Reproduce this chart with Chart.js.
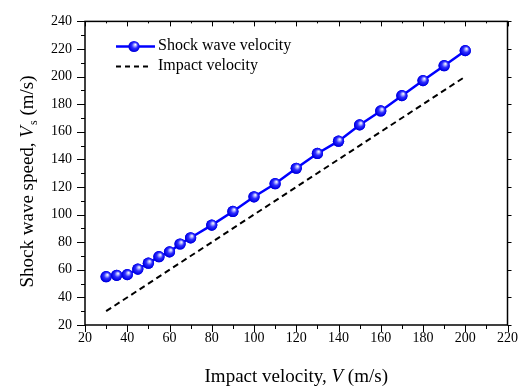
<!DOCTYPE html>
<html>
<head>
<meta charset="utf-8">
<script src="https://cdn.jsdelivr.net/npm/chart.js@4.4.1/dist/chart.umd.min.js"></script>
<style>
  html, body { margin: 0; padding: 0; background: #fff; }
</style>
</head>
<body>
<canvas id="shockChart" width="523" height="389"></canvas>
<script>
// impact velocity (m/s) of each test
var impactV = [30, 35, 40, 45, 50, 55, 60, 65, 70, 80, 90, 100, 110, 120, 130, 140, 150, 160, 170, 180, 190, 200];
// measured shock wave speed Vs (m/s)
var shockV = [55, 56, 56.5, 60.5, 64.8, 69.5, 73, 78.7, 83.2, 92.4, 102.3, 112.9, 122.4, 133.6, 144.3, 153.2, 165, 175.1, 186.2, 197.1, 207.9, 218.8];
// reference line Vs = V
var refV = [30, 200];
var xRange = [20, 220];
var yRange = [20, 240];

var serif = "'Liberation Serif', 'Times New Roman', serif";

function sphere(ctx, x, y, r) {
  var g = ctx.createRadialGradient(x + 1.5, y - 2, 0, x, y, r + 1);
  g.addColorStop(0, '#ffffff');
  g.addColorStop(0.18, '#b4b8ff');
  g.addColorStop(0.45, '#2f2fff');
  g.addColorStop(0.8, '#0000e6');
  g.addColorStop(1, '#0000a8');
  ctx.beginPath();
  ctx.arc(x, y, r, 0, Math.PI * 2);
  ctx.fillStyle = g;
  ctx.fill();
}

// frame, minor ticks, mirrored ticks, sphere markers, legend and axis titles
var decor = {
  id: 'decor',
  afterDatasetsDraw: function(chart) {
    var ctx = chart.ctx;
    var meta = chart.getDatasetMeta(0);
    ctx.save();
    meta.data.forEach(function(pt) { sphere(ctx, pt.x, pt.y, 5.6); });
    ctx.restore();
  },
  afterDraw: function(chart) {
    var ctx = chart.ctx, a = chart.chartArea;
    var xs = chart.scales.x, ys = chart.scales.y;
    ctx.save();
    ctx.strokeStyle = '#000';
    ctx.lineWidth = 1.5;
    ctx.strokeRect(a.left, a.top, a.right - a.left, a.bottom - a.top);
    ctx.lineWidth = 1;
    ctx.beginPath();
    for (var v = xRange[0]; v <= xRange[1]; v += 10) {
      var px = Math.round(xs.getPixelForValue(v)) + 0.5;
      var len = (v % 20 === 0) ? 7 : 4;
      ctx.moveTo(px, a.bottom); ctx.lineTo(px, a.bottom + len);
      ctx.moveTo(px, a.top); ctx.lineTo(px, a.top + len - 2);
    }
    for (var w = yRange[0]; w <= yRange[1]; w += 10) {
      var py = Math.round(ys.getPixelForValue(w)) + 0.5;
      var l2 = (w % 20 === 0) ? 8 : 4;
      ctx.moveTo(a.left, py); ctx.lineTo(a.left - l2, py);
      ctx.moveTo(a.right, py); ctx.lineTo(a.right + l2 - 4, py);
    }
    ctx.stroke();

    // legend
    ctx.strokeStyle = '#0000ff';
    ctx.lineWidth = 2.5;
    ctx.beginPath(); ctx.moveTo(116, 46.5); ctx.lineTo(155, 46.5); ctx.stroke();
    sphere(ctx, 134, 46.5, 5.6);
    ctx.strokeStyle = '#000';
    ctx.lineWidth = 2;
    ctx.setLineDash([5, 4]);
    ctx.beginPath(); ctx.moveTo(116, 66.5); ctx.lineTo(152, 66.5); ctx.stroke();
    ctx.setLineDash([]);
    ctx.fillStyle = '#000';
    ctx.font = '16px ' + serif;
    ctx.textBaseline = 'middle';
    ctx.textAlign = 'left';
    ctx.fillText('Shock wave velocity', 158, 46);
    ctx.fillText('Impact velocity', 158, 66);

    // x title
    var fs = 19;
    var p1 = 'Impact velocity, ', p2 = 'V', p3 = ' (m/s)';
    ctx.font = fs + 'px ' + serif;
    var w1 = ctx.measureText(p1).width, w3 = ctx.measureText(p3).width;
    ctx.font = 'italic ' + fs + 'px ' + serif;
    var w2 = ctx.measureText(p2).width;
    var xs0 = (a.left + a.right) / 2 - (w1 + w2 + w3) / 2;
    ctx.font = fs + 'px ' + serif;
    ctx.fillText(p1, xs0, 377);
    ctx.font = 'italic ' + fs + 'px ' + serif;
    ctx.fillText(p2, xs0 + w1, 377);
    ctx.font = fs + 'px ' + serif;
    ctx.fillText(p3, xs0 + w1 + w2, 377);

    // y title (rotated)
    ctx.translate(28, 182);
    ctx.rotate(-Math.PI / 2);
    var q1 = 'Shock wave speed, ', q2 = 'V', q3 = 's', q4 = ' (m/s)';
    ctx.font = fs + 'px ' + serif;
    var v1 = ctx.measureText(q1).width, v4 = ctx.measureText(q4).width;
    ctx.font = 'italic ' + fs + 'px ' + serif;
    var v2 = ctx.measureText(q2).width;
    ctx.font = '12px ' + serif;
    var v3 = ctx.measureText(q3).width;
    var s0 = -(v1 + v2 + v3 + v4) / 2;
    ctx.font = fs + 'px ' + serif;
    ctx.fillText(q1, s0, 0);
    ctx.font = 'italic ' + fs + 'px ' + serif;
    ctx.fillText(q2, s0 + v1, 0);
    ctx.font = '12px ' + serif;
    ctx.fillText(q3, s0 + v1 + v2 + 1, 6);
    ctx.font = fs + 'px ' + serif;
    ctx.fillText(q4, s0 + v1 + v2 + v3 + 1, 0);
    ctx.restore();
  }
};

var shockData = impactV.map(function(v, i) { return { x: v, y: shockV[i] }; });
var refData = refV.map(function(v) { return { x: v, y: v }; });

var ctx = document.getElementById('shockChart').getContext('2d');
var shockChart = new Chart(ctx, {
  type: 'line',
  data: {
    datasets: [{
      label: 'Shock wave velocity',
      data: shockData,
      borderColor: '#0000ff',
      backgroundColor: '#0000ff',
      borderWidth: 2.5,
      pointRadius: 5.6,
      pointBorderWidth: 0,
      tension: 0
    }, {
      label: 'Impact velocity',
      data: refData,
      borderColor: '#000000',
      borderWidth: 2,
      borderDash: [6, 4],
      pointRadius: 0,
      tension: 0
    }]
  },
  options: {
    responsive: false,
    animation: false,
    devicePixelRatio: 1,
    layout: { padding: { left: 0, right: 15, top: 14, bottom: 0 } },
    plugins: {
      legend: { display: false },
      tooltip: { enabled: false }
    },
    scales: {
      x: {
        type: 'linear',
        min: xRange[0],
        max: xRange[1],
        grid: { display: false, drawTicks: false },
        border: { display: false },
        ticks: {
          stepSize: 20,
          padding: 5,
          color: '#000',
          maxRotation: 0,
          font: { family: serif, size: 14 }
        },
        afterFit: function(scale) { scale.height = 64; }
      },
      y: {
        type: 'linear',
        min: yRange[0],
        max: yRange[1],
        grid: { display: false, drawTicks: false },
        border: { display: false },
        ticks: {
          stepSize: 20,
          padding: 13,
          color: '#000',
          font: { family: serif, size: 14 }
        },
        afterFit: function(scale) { scale.width = 85; }
      }
    }
  },
  plugins: [decor]
});
</script>
</body>
</html>
